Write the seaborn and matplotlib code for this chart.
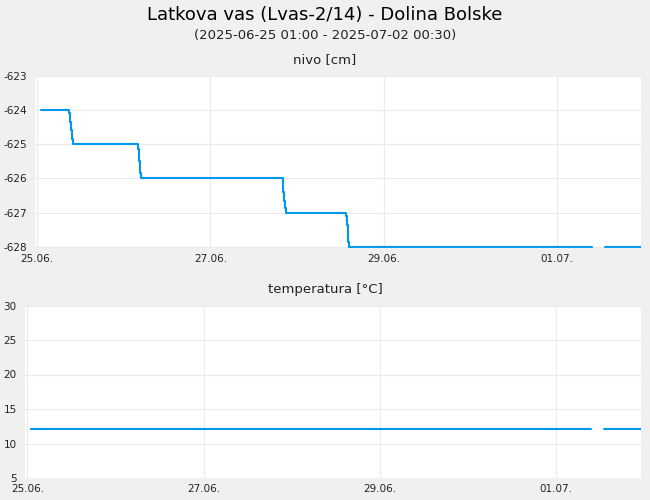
import pandas as pd
import matplotlib
matplotlib.use('Agg')
import matplotlib.pyplot as plt
import matplotlib.dates as mdates
import seaborn as sns

# ------------------------------
# data
# ------------------------------
level_times = ['2025-06-25 01:00', '2025-06-25 09:00', '2025-06-25 09:15', '2025-06-25 09:30',
               '2025-06-25 09:45', '2025-06-25 10:00',
               '2025-06-26 04:00', '2025-06-26 04:15', '2025-06-26 04:30', '2025-06-26 04:45',
               '2025-06-27 20:00', '2025-06-27 20:15', '2025-06-27 20:30', '2025-06-27 20:45',
               '2025-06-27 21:00',
               '2025-06-28 13:30', '2025-06-28 13:45', '2025-06-28 14:00', '2025-06-28 14:15',
               '2025-06-28 14:30', '2025-07-01 09:40',
               '2025-07-01 13:15', '2025-07-02 00:30']
level_values = [-624, -624.1, -624.35, -624.6, -624.85, -625,
                -625.15, -625.5, -625.85, -626,
                -626.15, -626.4, -626.65, -626.85, -627,
                -627.1, -627.35, -627.6, -627.85, -628, -628,
                -628, -628]
level_segment = [0] * 21 + [1] * 2

temp_times = ['2025-06-25 01:00', '2025-07-01 09:30', '2025-07-01 13:00', '2025-07-02 00:30']
temp_values = [12.1, 12.1, 12.1, 12.1]
temp_segment = [0, 0, 1, 1]

tick_days = ['2025-06-25', '2025-06-27', '2025-06-29', '2025-07-01']
level_ticks = [-628, -627, -626, -625, -624, -623]
temp_ticks = [5, 10, 15, 20, 25, 30]

df_level = pd.DataFrame({'time': pd.to_datetime(level_times), 'value': level_values,
                         'segment': level_segment})
df_temp = pd.DataFrame({'time': pd.to_datetime(temp_times), 'value': temp_values,
                        'segment': temp_segment})

# ------------------------------
# style
# ------------------------------
sns.set_style('whitegrid', {'axes.edgecolor': 'white', 'grid.color': '#ebebeb',
                            'axes.facecolor': 'white', 'figure.facecolor': '#f0f0f0'})
plt.rcParams['font.family'] = ['DejaVu Sans']
plt.rcParams['axes.unicode_minus'] = False

BLUE = '#0098ec'

fig = plt.figure(figsize=(6.5, 5), dpi=100)
fig.patch.set_facecolor('#f0f0f0')

ax1 = fig.add_axes([35 / 650, 1 - 248 / 500, 606 / 650, 172.5 / 500])
ax2 = fig.add_axes([25 / 650, 1 - 478 / 500, 616 / 650, 172.5 / 500])

sns.lineplot(data=df_level, x='time', y='value', units='segment', estimator=None,
             drawstyle='steps-post', color=BLUE, lw=1.5, ax=ax1)
sns.lineplot(data=df_temp, x='time', y='value', units='segment', estimator=None,
             color=BLUE, lw=1.5, ax=ax2)

ax1.set_xlim(pd.Timestamp('2025-06-24 23:27'), pd.Timestamp('2025-07-01 23:15'))
ax2.set_xlim(pd.Timestamp('2025-06-24 23:20'), pd.Timestamp('2025-07-01 23:10'))
ax1.set_ylim(-628.025, -623)
ax2.set_ylim(5, 30)
ax1.set_yticks(level_ticks)
ax2.set_yticks(temp_ticks)

for ax in (ax1, ax2):
    ax.set_xticks(pd.to_datetime(tick_days))
    ax.xaxis.set_major_formatter(mdates.DateFormatter('%d.%m.'))
    ax.set_xlabel('')
    ax.set_ylabel('')
    ax.grid(True, color='#ebebeb', lw=0.8)
    for s in ax.spines.values():
        s.set_visible(False)
    ax.tick_params(axis='both', length=0, labelsize=7.5, colors='#222222')
    ax.tick_params(axis='x', pad=4)
    ax.tick_params(axis='y', pad=6)

fig.text(0.5, 1 - 15 / 500, 'Latkova vas (Lvas-2/14) - Dolina Bolske', ha='center', va='center',
         fontsize=13, color='black')
fig.text(0.5, 1 - 35 / 500, '(2025-06-25 01:00 - 2025-07-02 00:30)', ha='center', va='center',
         fontsize=9.5, color='#222222')
fig.text(0.5, 1 - 60 / 500, 'nivo [cm]', ha='center', va='center', fontsize=9.5, color='#222222')
fig.text(0.5, 1 - 290 / 500, 'temperatura [°C]', ha='center', va='center', fontsize=9.5,
         color='#222222')

fig.savefig('out.png', dpi=100, facecolor=fig.get_facecolor())
